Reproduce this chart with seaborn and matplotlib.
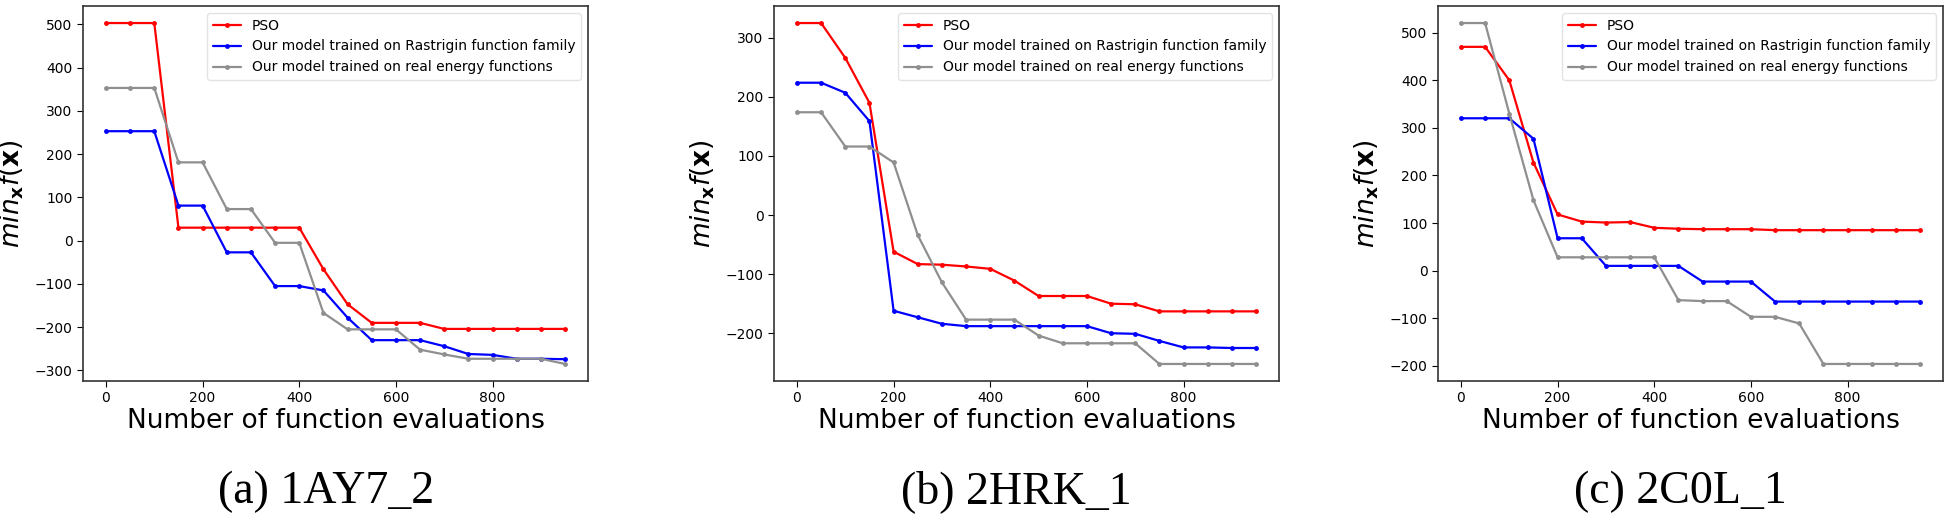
import numpy as np
import pandas as pd
import seaborn as sns
import matplotlib.pyplot as plt

# evaluations (x axis shared by all panels)
evals = list(range(0, 1000, 50))

# (a) 1AY7_2
pso_a = [503, 503, 503, 30, 30, 30, 30, 30, 30, -66,
         -147, -190, -190, -190, -204, -204, -204, -204, -204, -204]
rast_a = [253, 253, 253, 81, 81, -27, -27, -105, -105, -115,
          -178, -230, -230, -230, -244, -262, -264, -273, -273, -274]
real_a = [353, 353, 353, 181, 181, 73, 73, -5, -5, -167,
          -205, -205, -205, -252, -263, -273, -273, -273, -273, -285]

# (b) 2HRK_1
pso_b = [325, 325, 266, 190, -62, -83, -84, -87, -91, -111,
         -137, -137, -137, -150, -151, -163, -163, -163, -163, -163]
rast_b = [224, 224, 207, 159, -162, -173, -184, -188, -188, -188,
          -188, -188, -188, -200, -201, -213, -224, -224, -225, -225]
real_b = [174, 174, 116, 116, 89, -34, -114, -177, -177, -177,
          -204, -217, -217, -217, -217, -252, -252, -252, -252, -252]

# (c) 2C0L_1
pso_c = [470, 470, 400, 227, 118, 103, 101, 102, 90, 88,
         87, 87, 87, 85, 85, 85, 85, 85, 85, 85]
rast_c = [320, 320, 320, 277, 68, 68, 10, 10, 10, 10,
          -23, -23, -23, -65, -65, -65, -65, -65, -65, -65]
real_c = [520, 520, 330, 148, 28, 28, 28, 28, 28, -62,
          -64, -64, -97, -97, -111, -196, -196, -196, -196, -196]

methods = ["PSO",
           "Our model trained on Rastrigin function family",
           "Our model trained on real energy functions"]
colors = ["red", "blue", "#8f8f8f"]
captions = ["(a) 1AY7_2", "(b) 2HRK_1", "(c) 2C0L_1"]
panels = [(pso_a, rast_a, real_a), (pso_b, rast_b, real_b), (pso_c, rast_c, real_c)]

sns.set_style("ticks")
plt.rcParams["font.family"] = ["DejaVu Sans"]
plt.rcParams["mathtext.fontset"] = "dejavusans"
plt.rcParams["text.color"] = "black"
plt.rcParams["axes.labelcolor"] = "black"
plt.rcParams["xtick.color"] = "black"
plt.rcParams["ytick.color"] = "black"

fig = plt.figure(figsize=(19.5, 5.21), dpi=100)
lefts = [83, 774, 1438]
cap_x = [326, 1016, 1680]

for i, series in enumerate(panels):
    ax = fig.add_axes([lefts[i] / 1950, 140 / 521, 505 / 1950, 375 / 521])
    rows = []
    for name, vals in zip(methods, series):
        for e, v in zip(evals, vals):
            rows.append({"evals": e, "value": v, "method": name})
    df = pd.DataFrame(rows)
    sns.lineplot(data=df, x="evals", y="value", hue="method", hue_order=methods,
                 palette=colors, marker="o", markersize=3.5, markeredgewidth=0,
                 linewidth=1.6, ax=ax)
    for s in ax.spines.values():
        s.set_color("#333333")
        s.set_linewidth(1.2)
    ax.set_xticks([0, 200, 400, 600, 800])
    ax.tick_params(labelsize=10, length=4)
    ax.set_xlabel("Number of function evaluations", fontsize=19, labelpad=2)
    ax.set_ylabel(r"$min_{\mathbf{x}}f(\mathbf{x})$", fontsize=19, labelpad=6)
    ax.legend(loc="upper right", fontsize=10, frameon=True, framealpha=0.8,
              edgecolor="#dddddd")
    fig.text(cap_x[i] / 1950, 18 / 521, captions[i], ha="center", va="baseline",
             fontsize=33, family=["Liberation Serif"])

fig.savefig("out.png", dpi=100)
